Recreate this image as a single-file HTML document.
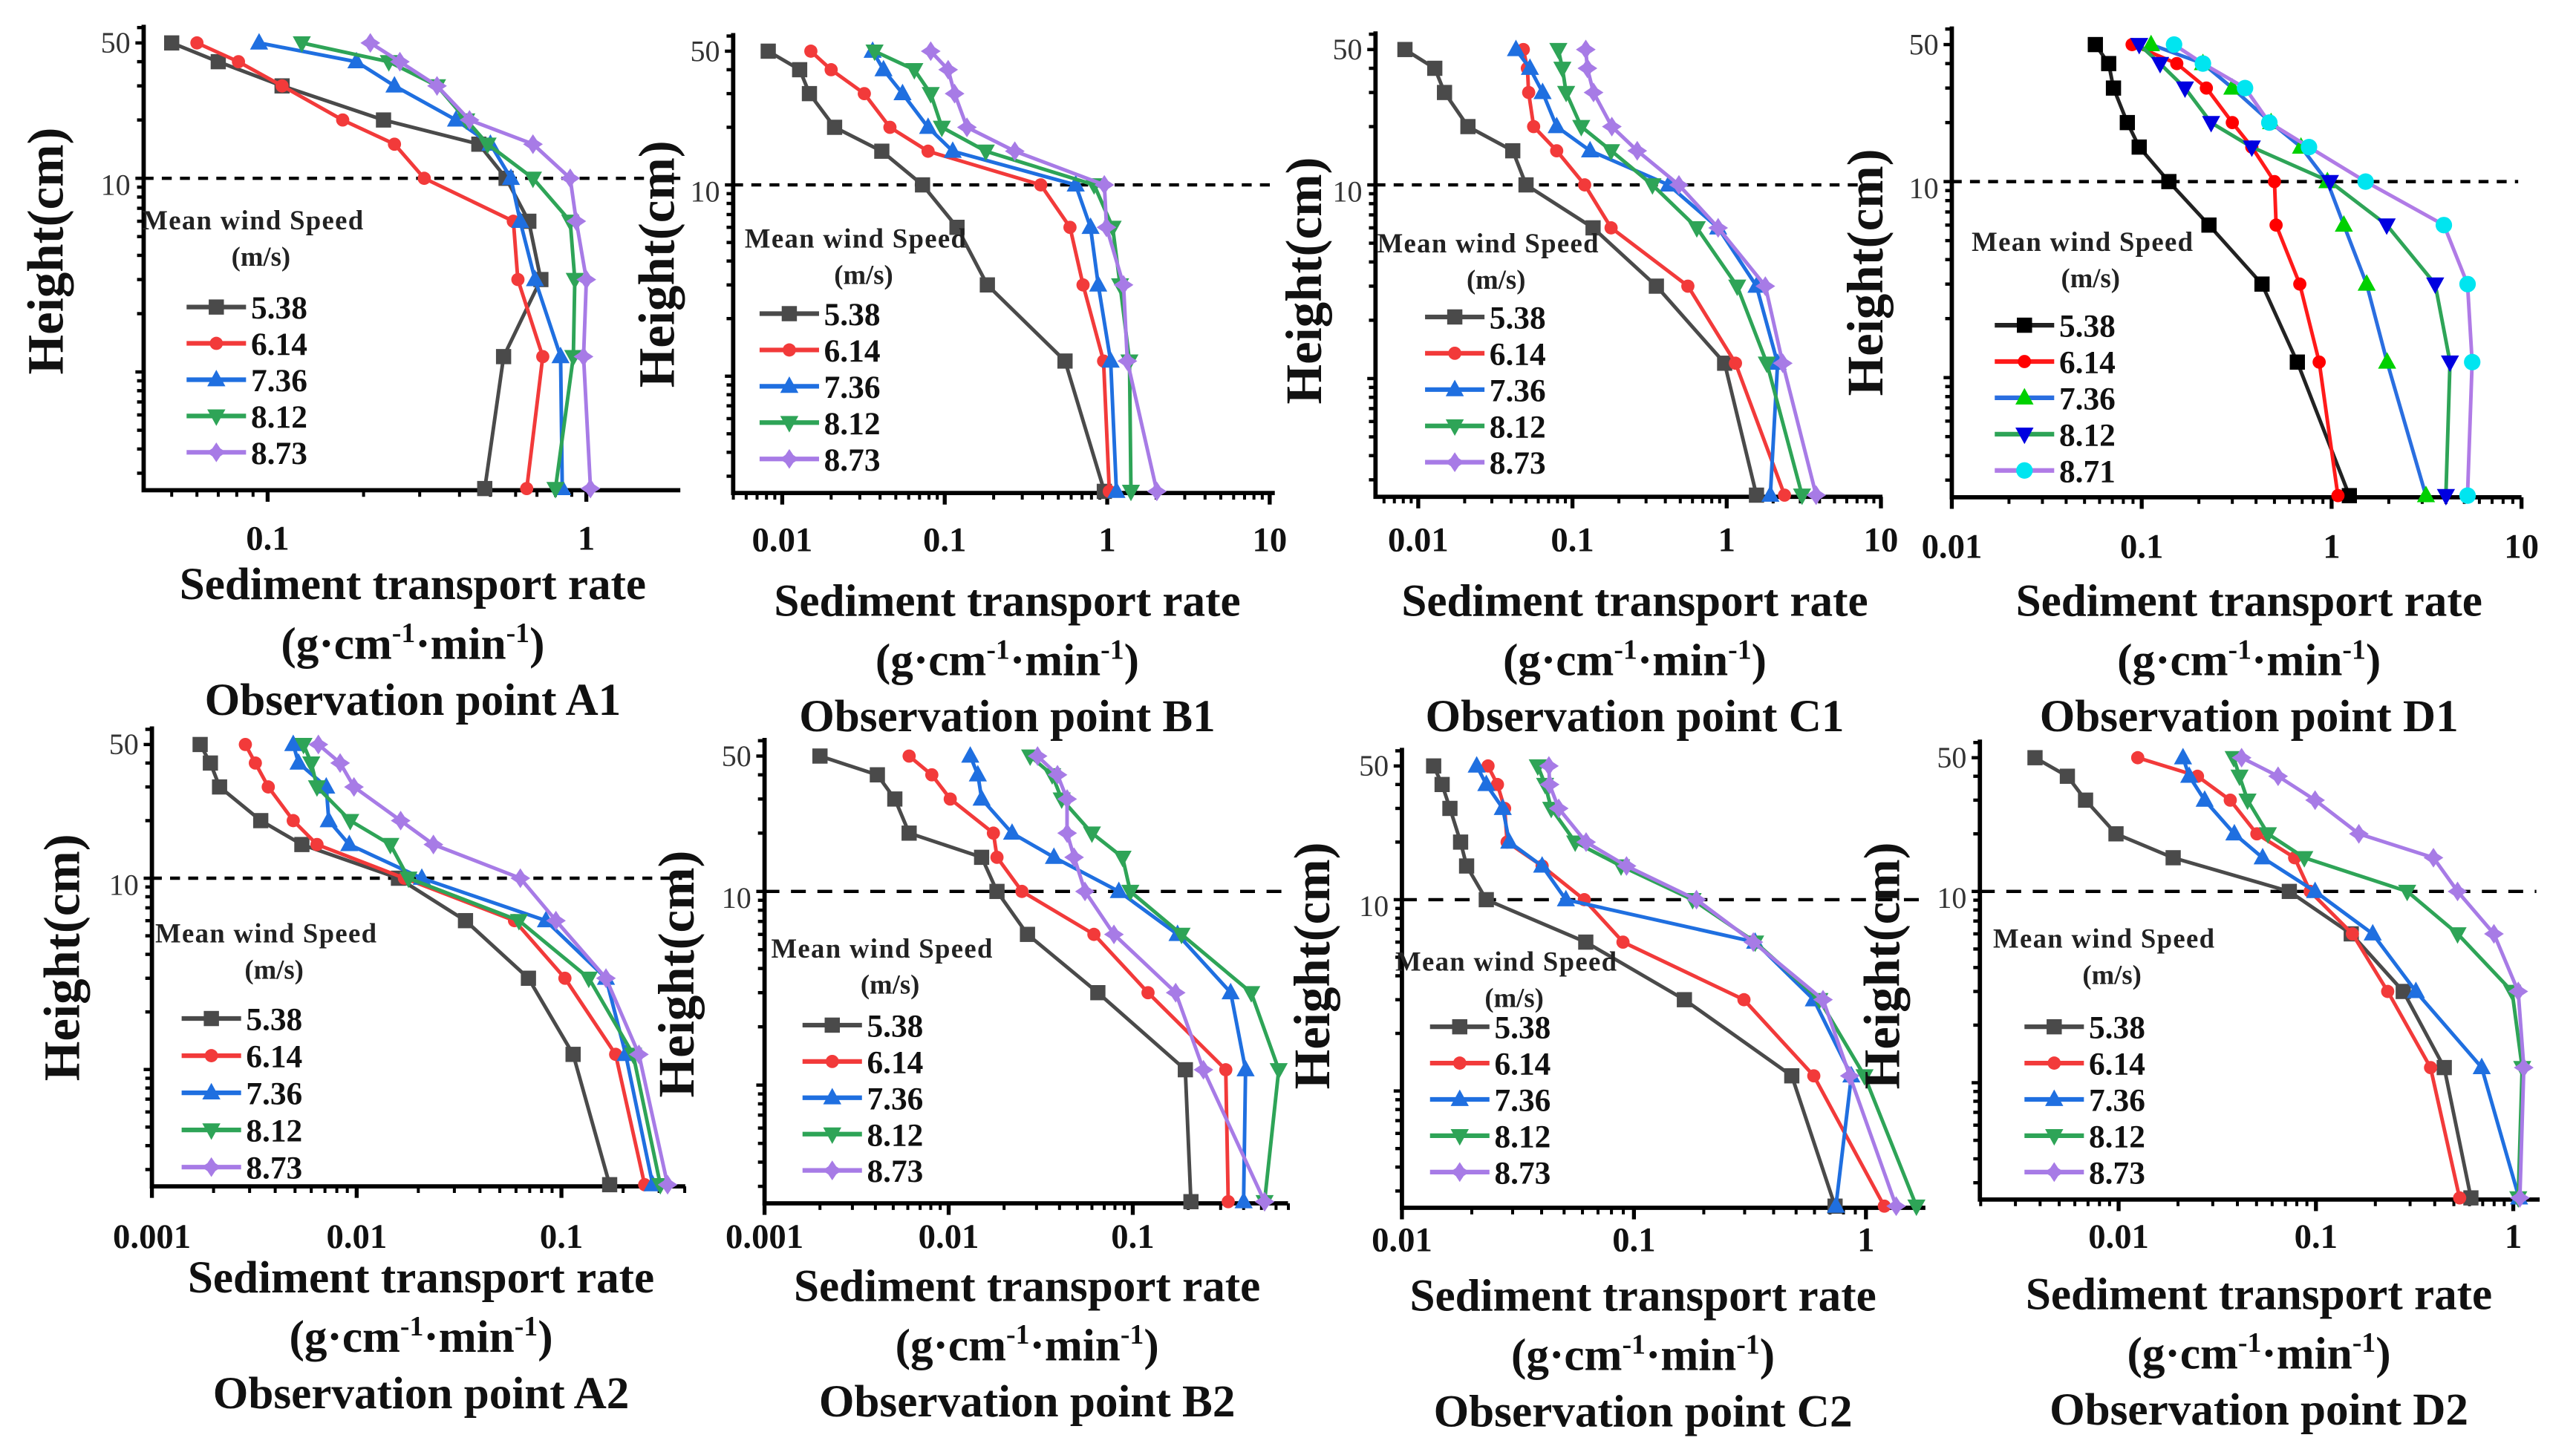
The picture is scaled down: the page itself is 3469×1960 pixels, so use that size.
<!DOCTYPE html>
<html><head><meta charset="utf-8"><title>Sediment transport profiles</title>
<style>
html,body{margin:0;padding:0;background:#fff;}
svg{display:block;}
text{font-family:"Liberation Serif",serif;}
</style></head>
<body>
<svg id="fig" xmlns="http://www.w3.org/2000/svg" width="3469" height="1960" viewBox="0 0 1560 881.4"></svg>
<script>
// ---------- data ----------
const heights = [50,40,30,20,15,10,6,3,1.2,0.25];
const speedsStd = ["5.38","6.14","7.36","8.12","8.73"];
const speedsD1 = ["5.38","6.14","7.36","8.12","8.71"];

const A1_s538 = [0.050,0.070,0.111,0.231,0.46,0.56,0.66,0.72,0.55,0.48];
const A1_s614 = [0.060,0.081,0.111,0.172,0.25,0.31,0.59,0.61,0.73,0.65];
const A1_s736 = [0.094,0.19,0.25,0.39,0.50,0.58,0.62,0.69,0.83,0.84];
const A1_s812 = [0.128,0.24,0.34,0.42,0.49,0.68,0.89,0.92,0.91,0.80];
const A1_s873 = [0.21,0.26,0.34,0.43,0.68,0.89,0.93,1.0,0.98,1.03];

const B1_s538 = [0.0082,0.0128,0.0147,0.021,0.041,0.073,0.119,0.183,0.55,0.96];
const B1_s614 = [0.015,0.020,0.032,0.046,0.079,0.39,0.59,0.71,0.95,1.03];
const B1_s736 = [0.036,0.042,0.055,0.079,0.112,0.64,0.79,0.88,1.05,1.14];
const B1_s812 = [0.037,0.065,0.082,0.096,0.179,0.83,1.08,1.2,1.37,1.40];
const B1_s873 = [0.082,0.105,0.115,0.137,0.27,0.96,0.99,1.26,1.33,2.02];

const C1_s538 = [0.0082,0.0128,0.0148,0.021,0.041,0.050,0.136,0.35,0.97,1.56];
const C1_s614 = [0.048,0.051,0.052,0.056,0.079,0.120,0.178,0.56,1.14,2.37];
const C1_s736 = [0.043,0.053,0.064,0.079,0.13,0.42,0.88,1.56,2.14,1.92];
const C1_s812 = [0.081,0.086,0.091,0.114,0.178,0.33,0.64,1.17,1.82,3.08];
const C1_s873 = [0.122,0.125,0.137,0.18,0.263,0.49,0.88,1.78,2.31,3.8];

const D1_s538 = [0.057,0.067,0.071,0.084,0.097,0.139,0.226,0.43,0.66,1.24];
const D1_s614 = [0.089,0.153,0.219,0.30,0.38,0.50,0.51,0.68,0.86,1.08];
const D1_s736 = [0.112,0.21,0.30,0.48,0.69,0.95,1.16,1.53,1.96,3.14];
const D1_s812 = [0.097,0.125,0.169,0.232,0.38,0.98,1.95,3.51,4.2,4.0];
const D1_s871 = [0.148,0.21,0.35,0.47,0.76,1.51,3.9,5.2,5.5,5.2];

const A2_s538 = [0.00172,0.00193,0.00214,0.0034,0.0054,0.016,0.034,0.069,0.114,0.172];
const A2_s614 = [0.00286,0.0032,0.0037,0.0049,0.0064,0.0171,0.059,0.104,0.184,0.255];
const A2_s736 = [0.0049,0.0052,0.0071,0.0073,0.0092,0.0208,0.084,0.165,0.206,0.279];
const A2_s812 = [0.0055,0.006,0.0064,0.0093,0.0146,0.0179,0.062,0.136,0.224,0.304];
const A2_s873 = [0.0065,0.0083,0.0097,0.0164,0.0237,0.063,0.094,0.165,0.239,0.33];

const B2_s538 = [0.002,0.0041,0.0051,0.0061,0.0151,0.0183,0.0268,0.0646,0.193,0.207];
const B2_s614 = [0.0061,0.0081,0.0102,0.0175,0.0183,0.025,0.0615,0.121,0.32,0.33];
const B2_s736 = [0.0131,0.0144,0.0151,0.0221,0.0373,0.084,0.175,0.34,0.41,0.40];
const B2_s812 = [0.0277,0.0365,0.0411,0.060,0.088,0.097,0.184,0.44,0.62,0.52];
const B2_s873 = [0.0304,0.039,0.044,0.044,0.048,0.055,0.079,0.171,0.242,0.52];

const C2_s538 = [0.0137,0.0149,0.0161,0.0179,0.019,0.0231,0.062,0.165,0.479,0.736];
const C2_s614 = [0.0235,0.0258,0.0277,0.0284,0.0402,0.0611,0.0897,0.298,0.596,1.2];
const C2_s736 = [0.021,0.0231,0.0272,0.029,0.0402,0.0509,0.333,0.596,0.865,0.742];
const C2_s812 = [0.0385,0.0414,0.044,0.0558,0.088,0.179,0.333,0.63,0.986,1.65];
const C2_s873 = [0.043,0.0433,0.0474,0.0622,0.0929,0.186,0.327,0.653,0.852,1.35];

const D2_s538 = [0.00377,0.0055,0.0068,0.0097,0.0189,0.0733,0.151,0.277,0.447,0.61];
const D2_s614 = [0.0125,0.0251,0.0368,0.0502,0.078,0.0935,0.153,0.231,0.381,0.535];
const D2_s736 = [0.0212,0.0228,0.0273,0.0386,0.0537,0.099,0.194,0.321,0.692,1.07];
const D2_s812 = [0.0383,0.041,0.045,0.0571,0.0873,0.29,0.522,0.987,1.11,1.06];
const D2_s873 = [0.042,0.0643,0.099,0.165,0.394,0.522,0.798,1.06,1.13,1.08];

const ticksA1 = ["0.1","1"];
const ticksB1 = ["0.01","0.1","1","10"];
const ticksC1 = ["0.01","0.1","1","10"];
const ticksD1 = ["0.01","0.1","1","10"];
const ticksA2 = ["0.001","0.01","0.1"];
const ticksB2 = ["0.001","0.01","0.1"];
const ticksC2 = ["0.01","0.1","1"];
const ticksD2 = ["0.01","0.1","1"];
const yTickLabels = ["50","10"];

// ---------- layout ----------
const NS = "http://www.w3.org/2000/svg";
const svg = document.getElementById("fig");
function el(tag, attrs, parent){
  const e = document.createElementNS(NS, tag);
  for (const k in attrs) e.setAttribute(k, attrs[k]);
  (parent||svg).appendChild(e);
  return e;
}
const stdColors = {line:["#4a4a4a","#f23a3a","#1f6fe0","#2ea457","#a77be6"], mark:["#4a4a4a","#f23a3a","#1f6fe0","#2ea457","#a77be6"], shape:["sq","dot","up","down","star"]};
const d1Colors = {line:["#222","#ff1a1a","#2a6ee0","#2ea457","#b07be6"], mark:["#000","#ff0000","#00d000","#0000e0","#00e5f0"], shape:["sq","dot","up","down","circ"]};

const panels = [
 {id:"a1", name:"A1", series:[A1_s538,A1_s614,A1_s736,A1_s812,A1_s873], labels:speedsStd, ticks:ticksA1, col:stdColors,
  xl:87, xr:412, lo:-1.389, dec:193, y50:26, y10:108, yl:{x:28,y:152}, lg:{x:86,y:139,lx:113,ey:186,sp:22},
  tlabY:333, title:{cx:250,y:363}},
 {id:"b1", name:"B1", series:[B1_s538,B1_s614,B1_s736,B1_s812,B1_s873], labels:speedsStd, ticks:ticksB1, col:stdColors,
  xl:444, xr:772, lo:-2.302, dec:98.4, y50:31, y10:112, yl:{x:398,y:160}, lg:{x:451,y:150,lx:460,ey:190,sp:22},
  tlabY:334, title:{cx:610,y:373}},
 {id:"c1", name:"C1", series:[C1_s538,C1_s614,C1_s736,C1_s812,C1_s873], labels:speedsStd, ticks:ticksC1, col:stdColors,
  xl:833, xr:1140, lo:-2.277, dec:93.4, y50:30, y10:112, yl:{x:790,y:170}, lg:{x:834,y:153,lx:863,ey:192,sp:22},
  tlabY:334, title:{cx:990,y:373}},
 {id:"d1", name:"D1", series:[D1_s538,D1_s614,D1_s736,D1_s812,D1_s871], labels:speedsD1, ticks:ticksD1, col:d1Colors,
  xl:1182, xr:1527, lo:-2, dec:115, y50:27, y10:110, yl:{x:1130,y:165}, lg:{x:1194,y:152,lx:1208,ey:197,sp:22},
  tlabY:338, title:{cx:1362,y:373}},
 {id:"a2", name:"A2", series:[A2_s538,A2_s614,A2_s736,A2_s812,A2_s873], labels:speedsStd, ticks:ticksA2, col:stdColors,
  xl:92, xr:415, lo:-3, dec:124, y50:451, y10:532, yl:{x:38,y:580}, lg:{x:94,y:571,lx:110,ey:617,sp:22.5},
  tlabY:756, title:{cx:255,y:783}},
 {id:"b2", name:"B2", series:[B2_s538,B2_s614,B2_s736,B2_s812,B2_s873], labels:speedsStd, ticks:ticksB2, col:stdColors,
  xl:463, xr:780, lo:-3, dec:111.5, y50:458, y10:540, yl:{x:410,y:590}, lg:{x:467,y:580,lx:486,ey:621,sp:22},
  tlabY:756, title:{cx:622,y:788}},
 {id:"c2", name:"C2", series:[C2_s538,C2_s614,C2_s736,C2_s812,C2_s873], labels:speedsStd, ticks:ticksC2, col:stdColors,
  xl:849, xr:1166, lo:-2, dec:140.5, y50:464, y10:545, yl:{x:795,y:585}, lg:{x:845,y:588,lx:866,ey:622,sp:22},
  tlabY:758, title:{cx:995,y:794}},
 {id:"d2", name:"D2", series:[D2_s538,D2_s614,D2_s736,D2_s812,D2_s873], labels:speedsStd, ticks:ticksD2, col:stdColors,
  xl:1199, xr:1538, lo:-2.703, dec:119.5, y50:459, y10:540, yl:{x:1140,y:585}, lg:{x:1207,y:574,lx:1226,ey:622,sp:22},
  tlabY:756, title:{cx:1368,y:793}}
];

function marker(g, shape, x, y, color){
  let m;
  const r = 4.6;
  if (shape==="sq") m = el("rect",{x:x-r,y:y-r,width:2*r,height:2*r,fill:color},g);
  else if (shape==="dot") m = el("circle",{cx:x,cy:y,r:4,fill:color},g);
  else if (shape==="circ") m = el("circle",{cx:x,cy:y,r:5,fill:color},g);
  else if (shape==="up") m = el("polygon",{points:`${x},${y-6} ${x-5.5},${y+4} ${x+5.5},${y+4}`,fill:color},g);
  else if (shape==="down") m = el("polygon",{points:`${x},${y+6} ${x-5.5},${y-4} ${x+5.5},${y-4}`,fill:color},g);
  else m = el("polygon",{points:`${x},${y-6} ${x+2.4},${y-2.4} ${x+6},${y} ${x+2.4},${y+2.4} ${x},${y+6} ${x-2.4},${y+2.4} ${x-6},${y} ${x-2.4},${y-2.4}`,fill:color},g);
  return m;
}

panels.forEach(p=>{
  const g = el("g",{});
  
  
  const perDec = (p.y10-p.y50)/Math.log10(5);
  const yOf = h => p.y10 - (Math.log10(h)-1)*perDec;
  const xOf = v => p.xl + (Math.log10(v)-p.lo)*p.dec;
  const yb = yOf(0.25)+1;
  const yt = p.y50 - 11;

  const ax = el("path",{d:`M${p.xl},${yt} L${p.xl},${yb} L${p.xr},${yb}`,stroke:"#000","stroke-width":2.6,fill:"none"},g);
  
  

  for (let e=-1;e<=1;e++){
    for (let k=1;k<=9;k++){
      const h = k*Math.pow(10,e);
      const y = yOf(h);
      if (y<yt-0.5 || y>yb+0.5) continue;
      el("line",{x1:p.xl-(k===1||h===50?5:4),y1:y,x2:p.xl,y2:y,stroke:"#000","stroke-width":2},g);
    }
  }
  [50,10].forEach((h,i)=>{
    const t = el("text",{x:p.xl-8,y:yOf(h)+ (i===0?6:10),"text-anchor":"end","font-size":18,fill:"#333"},g);
    t.textContent = yTickLabels[i];
    
    
  });
  for (let e=-4;e<=1;e++){
    for (let k=1;k<=9;k++){
      const v = k*Math.pow(10,e);
      const x = xOf(v);
      if (x<p.xl-0.5 || x>p.xr+0.5) continue;
      el("line",{x1:x,y1:yb,x2:x,y2:yb+(k===1?7:4),stroke:"#000","stroke-width":k===1?2.4:1.8},g);
    }
  }
  p.ticks.forEach(lbl=>{
    const t = el("text",{x:xOf(parseFloat(lbl)),y:p.tlabY,"text-anchor":"middle","font-size":21,"font-weight":"bold",fill:"#111"},g);
    t.textContent = lbl;
    
    
  });
  const dl = el("line",{x1:p.xl,y1:yOf(10),x2:p.xr+ (p.id==="a1"?0:-2),y2:yOf(10),stroke:"#000","stroke-width":2,"stroke-dasharray":(p.id==="b2"||p.id==="c2"||p.id==="d2")?"9,7":"6,5"},g);
  
  

  const yt2 = el("text",{x:p.yl.x,y:p.yl.y,"text-anchor":"middle","font-size":31,"font-weight":"bold",fill:"#111",transform:`rotate(-90 ${p.yl.x} ${p.yl.y})`,dy:10},g);
  yt2.textContent = "Height(cm)";
  
  

  p.series.forEach((vals,si)=>{
    const sg = el("g",{},g);
    
    
    const pts = vals.map((v,i)=>`${xOf(v).toFixed(1)},${yOf(heights[i]).toFixed(1)}`).join(" ");
    const pl = el("polyline",{points:pts,fill:"none",stroke:p.col.line[si],"stroke-width":2.2},sg);
    
    
    vals.forEach((v,i)=>{
      const m = marker(sg,p.col.shape[si],xOf(v),yOf(heights[i]),p.col.mark[si]);
      
      
    });
  });

  const lg = el("g",{},g);
  
  
  const lt = el("text",{x:p.lg.x,y:p.lg.y,"font-size":16.5,"font-weight":"bold",fill:"#222","letter-spacing":"0.6"},lg);
  lt.textContent = "Mean wind Speed";
  
  
  const lu = el("text",{x:p.lg.x+72,y:p.lg.y+22,"text-anchor":"middle","font-size":16.5,"font-weight":"bold",fill:"#222"},lg);
  lu.textContent = "(m/s)";
  
  
  p.labels.forEach((lab,si)=>{
    const y = p.lg.ey + si*p.lg.sp;
    const eg = el("g",{},lg);
    
    
    el("line",{x1:p.lg.lx,y1:y,x2:p.lg.lx+36,y2:y,stroke:p.col.line[si],"stroke-width":2.8},eg);
    marker(eg,p.col.shape[si],p.lg.lx+18,y,p.col.mark[si]);
    const tt = el("text",{x:p.lg.lx+39,y:y+7,"font-size":19.5,"font-weight":"bold",fill:"#111"},eg);
    tt.textContent = lab;
  });

  const t1 = el("text",{x:p.title.cx,y:p.title.y,"text-anchor":"middle","font-size":27.5,"font-weight":"bold",fill:"#111"},g);
  t1.textContent = "Sediment transport rate";
  
  
  const t2 = el("text",{x:p.title.cx,y:p.title.y+36,"text-anchor":"middle","font-size":27.5,"font-weight":"bold",fill:"#111"},g);
  
  
  t2.innerHTML = '(g·cm<tspan font-size="17" dy="-10">-1</tspan><tspan dy="10">·min</tspan><tspan font-size="17" dy="-10">-1</tspan><tspan dy="10">)</tspan>';
  const t3 = el("text",{x:p.title.cx,y:p.title.y+70,"text-anchor":"middle","font-size":27.5,"font-weight":"bold",fill:"#111"},g);
  t3.textContent = "Observation point "+p.name;
  
  
});
</script>
</body></html>
